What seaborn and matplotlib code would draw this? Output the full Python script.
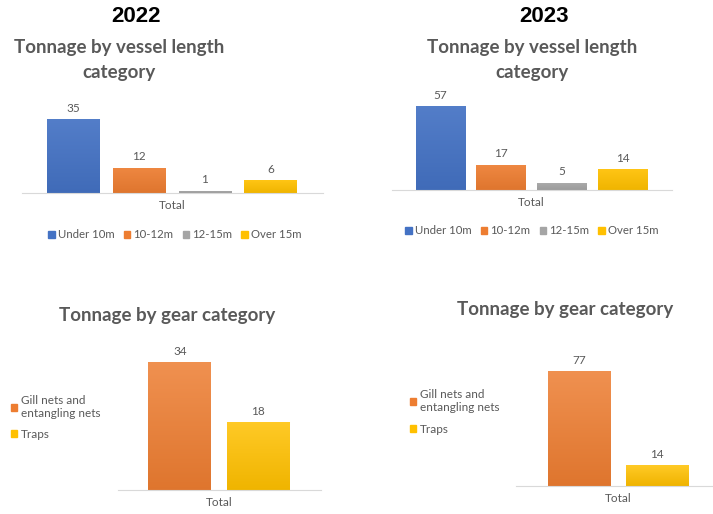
import numpy as np
import pandas as pd
import matplotlib
matplotlib.use("Agg")
import matplotlib.pyplot as plt
import matplotlib.colors as mcolors
import seaborn as sns

# ---- data ----
years = ["2022", "2023"]
length_categories = ["Under 10m", "10-12m", "12-15m", "Over 15m"]
length_tonnage_2022 = [35, 12, 1, 6]
length_tonnage_2023 = [57, 17, 5, 14]
gear_categories = ["Gill nets and\nentangling nets", "Traps"]
gear_tonnage_2022 = [34, 18]
gear_tonnage_2023 = [77, 14]
group_label = "Total"

length_colors = ["#4472C4", "#ED7D31", "#A5A5A5", "#FFC000"]
gear_colors = ["#ED7D31", "#FFC000"]

sns.set_theme(style="white")
plt.rcParams["font.family"] = ["Lato", "DejaVu Sans"]

W, H = 713, 514
fig = plt.figure(figsize=(W / 100, H / 100), dpi=100)
fig.patch.set_facecolor("white")

TEXT = "#595959"
SMALL = 8.5


def axes_px(left, top, right, bottom):
    return fig.add_axes([left / W, 1 - bottom / H, (right - left) / W, (bottom - top) / H])


def shade(color, f):
    r, g, b = mcolors.to_rgb(color)
    if f >= 0:
        return (r + (1 - r) * f, g + (1 - g) * f, b + (1 - b) * f)
    return (r * (1 + f), g * (1 + f), b * (1 + f))


def gradient_bars(ax, colors, top_light, bottom_dark):
    xl, yl = ax.get_xlim(), ax.get_ylim()
    for cont, col in zip(ax.containers, colors):
        for p in cont.patches:
            x0, y0 = p.get_x(), p.get_y()
            w, h = p.get_width(), p.get_height()
            c1 = np.array(shade(col, top_light))
            c2 = np.array(shade(col, -bottom_dark))
            t = np.linspace(0, 1, 64)[:, None]
            img = (c1 * (1 - t) + c2 * t)[:, None, :]
            im = ax.imshow(img, extent=(x0, x0 + w, y0, y0 + h), aspect="auto",
                           origin="upper", zorder=p.get_zorder() + 0.1,
                           interpolation="bilinear")
            im.set_clip_path(p)
    ax.set_xlim(xl)
    ax.set_ylim(yl)


def style_axes(ax, xlim, ymax):
    ax.set_xlim(*xlim)
    ax.set_ylim(0, ymax)
    sns.despine(ax=ax, left=True, top=True, right=True)
    ax.spines["bottom"].set_color("#D9D9D9")
    ax.spines["bottom"].set_linewidth(0.8)
    ax.set_yticks([])
    ax.set_xlabel("")
    ax.set_ylabel("")
    ax.tick_params(axis="x", length=0, pad=5, labelsize=SMALL, labelcolor=TEXT)
    ax.set_facecolor("none")
    for cont in ax.containers:
        ax.bar_label(cont, padding=4, fontsize=SMALL, color=TEXT)


def length_panel(values, rect, xlim, ymax, gap):
    df = pd.DataFrame({"group": [group_label] * len(values),
                       "category": length_categories, "tonnage": values})
    ax = axes_px(*rect)
    sns.barplot(data=df, x="group", y="tonnage", hue="category",
                hue_order=length_categories, palette=length_colors,
                gap=gap, width=0.8, ax=ax, legend=False, saturation=1)
    style_axes(ax, xlim, ymax)
    gradient_bars(ax, length_colors, 0.08, 0.06)
    return ax


def gear_panel(values, rect, xlim, ymax):
    df = pd.DataFrame({"group": [group_label] * len(values),
                       "category": gear_categories, "tonnage": values})
    ax = axes_px(*rect)
    sns.barplot(data=df, x="group", y="tonnage", hue="category",
                hue_order=gear_categories, palette=gear_colors,
                gap=0.2, width=0.8, ax=ax, legend=False, saturation=1)
    style_axes(ax, xlim, ymax)
    gradient_bars(ax, gear_colors, 0.15, 0.06)
    return ax


def length_legend(x_center_px, y_px):
    handles = [plt.Rectangle((0, 0), 1, 1, color=c) for c in length_colors]
    fig.legend(handles, length_categories, loc="center",
               bbox_to_anchor=(x_center_px / W, 1 - y_px / H), ncol=4,
               frameon=False, fontsize=8.2, labelcolor=TEXT,
               handlelength=0.55, handleheight=0.55, handletextpad=0.3,
               columnspacing=0.8)


def gear_legend(left_px, top_px, spacing):
    handles = [plt.Rectangle((0, 0), 1, 1, color=c) for c in gear_colors]
    leg = fig.legend(handles, gear_categories, loc="upper left",
                     bbox_to_anchor=(left_px / W, 1 - top_px / H), ncol=1,
                     frameon=False, fontsize=SMALL, labelcolor=TEXT,
                     handlelength=0.55, handleheight=0.55, handletextpad=0.3,
                     labelspacing=spacing, borderpad=0, borderaxespad=0)
    for t in leg.get_texts():
        t.set_linespacing(1.25)


# year headings
fig.text(136 / W, 1 - 16 / H, years[0], ha="center", va="center",
         fontsize=16, fontweight="bold", color="black", family="Liberation Sans")
fig.text(544 / W, 1 - 16 / H, years[1], ha="center", va="center",
         fontsize=16, fontweight="bold", color="black", family="Liberation Sans")

# chart titles
title_kw = dict(ha="center", va="center", fontsize=13.5, fontweight="bold",
                color=TEXT, linespacing=1.55)
fig.text(119 / W, 1 - 60 / H, "Tonnage by vessel length\ncategory", **title_kw)
fig.text(532 / W, 1 - 60 / H, "Tonnage by vessel length\ncategory", **title_kw)
fig.text(167 / W, 1 - 315 / H, "Tonnage by gear category", **title_kw)
fig.text(565 / W, 1 - 310 / H, "Tonnage by gear category", **title_kw)

# vessel length panels
ax1 = length_panel(length_tonnage_2022, (22, 193 - 40 * 2.11, 323, 193),
                   (-0.457, 0.46), 40, 0.2)
length_legend(175, 235)
ax2 = length_panel(length_tonnage_2023, (392, 190 - 60 * 1.47, 672, 190),
                   (-0.46, 0.463), 60, 0.18)
length_legend(532, 231)

# gear panels
ax3 = gear_panel(gear_tonnage_2022, (118, 490 - 36 * 3.76, 321, 490),
                 (-0.515, 0.52), 36)
gear_legend(11, 395, 0.8)
ax4 = gear_panel(gear_tonnage_2023, (516, 486 - 80 * 1.49, 713, 486),
                 (-0.523, 0.487), 80)
gear_legend(410, 389, 0.9)

fig.savefig("out.png", dpi=100, facecolor="white")
